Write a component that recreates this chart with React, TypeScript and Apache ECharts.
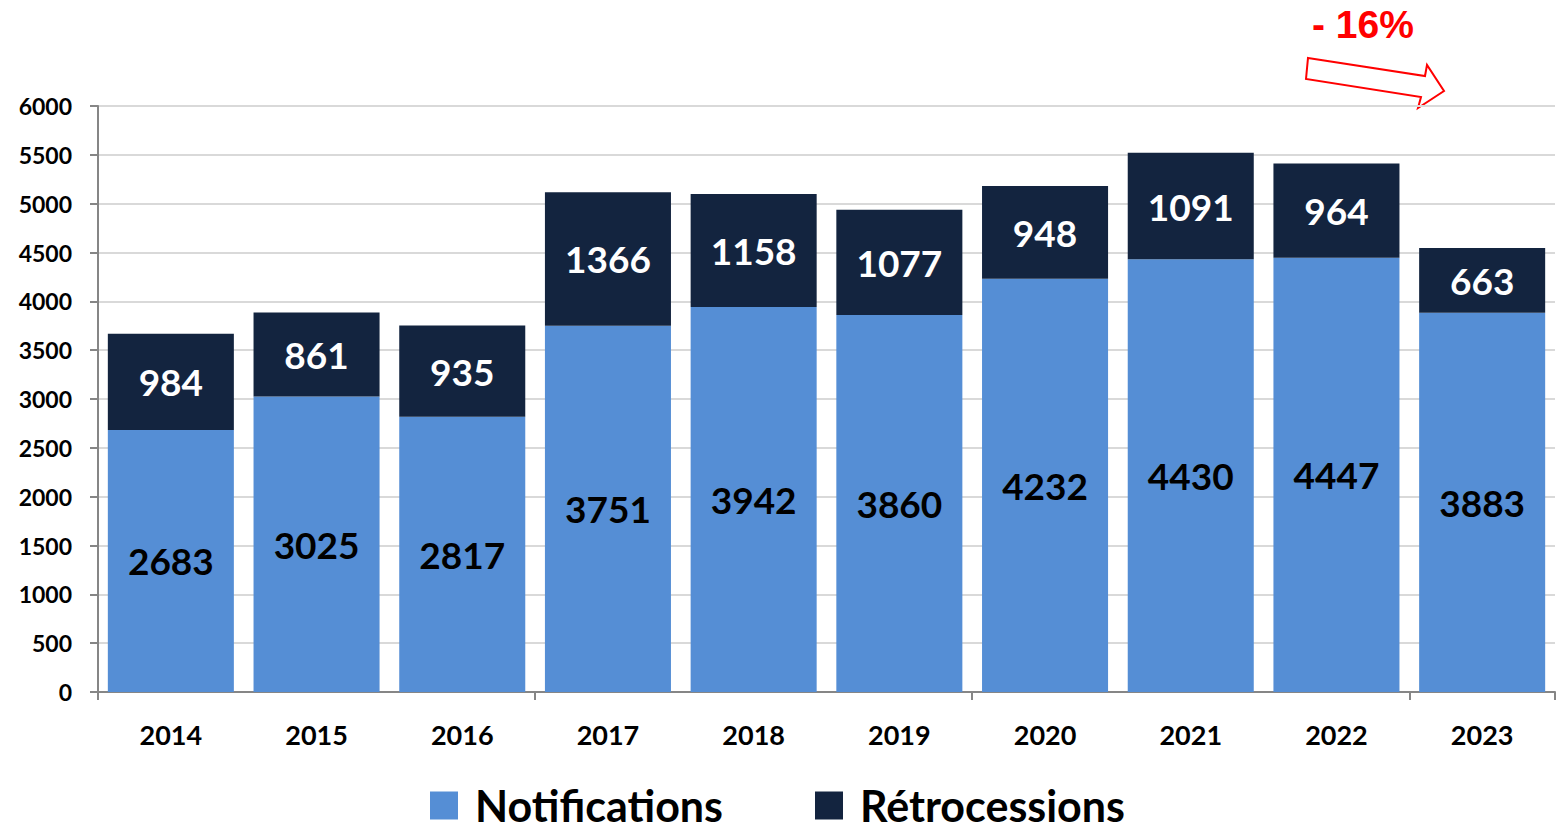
import React, { useEffect, useRef } from "react";
import * as echarts from "echarts";

const years = ["2014", "2015", "2016", "2017", "2018", "2019", "2020", "2021", "2022", "2023"];
const notifications = [2683, 3025, 2817, 3751, 3942, 3860, 4232, 4430, 4447, 3883];
const retrocessions = [984, 861, 935, 1366, 1158, 1077, 948, 1091, 964, 663];
const yMin = 0;
const yMax = 6000;
const yInterval = 500;
const changeLabel = "- 16%";

const FONT = "Lato, 'Open Sans', sans-serif";

export default function App() {
  const ref = useRef<HTMLDivElement>(null);
  useEffect(() => {
    document.body.style.margin = "0";
    const chart = echarts.init(ref.current!, null, { renderer: "svg" });
    chart.setOption({
      animation: false,
      backgroundColor: "#ffffff",
      textStyle: { fontFamily: FONT },
      grid: { left: 98, right: 3, top: 106, bottom: 138 },
      legend: {
        top: 784,
        left: 430,
        padding: 0,
        itemWidth: 28,
        itemHeight: 28,
        itemGap: 92,
        icon: "rect",
        textStyle: {
          fontFamily: FONT,
          fontWeight: "bold",
          fontSize: 43,
          lineHeight: 40,
          color: "#000",
          padding: [0, 0, 0, 12],
        },
        data: ["Notifications", "Rétrocessions"],
      },
      xAxis: {
        type: "category",
        data: years,
        axisLine: { lineStyle: { color: "#868686", width: 2 } },
        axisTick: { show: true, interval: 2, length: 8, lineStyle: { color: "#868686", width: 2 } },
        axisLabel: {
          interval: 0,
          margin: 29,
          fontFamily: FONT,
          fontWeight: "bold",
          fontSize: 27,
          color: "#000",
        },
      },
      yAxis: {
        type: "value",
        min: yMin,
        max: yMax,
        interval: yInterval,
        axisLine: { show: true, lineStyle: { color: "#868686", width: 2 } },
        axisTick: { show: true, length: 8, lineStyle: { color: "#868686", width: 2 } },
        splitLine: { lineStyle: { color: "#d9d9d9", width: 2 } },
        axisLabel: {
          margin: 26,
          formatter: (v: number) => String(v),
          fontFamily: FONT,
          fontWeight: "bold",
          fontSize: 23,
          color: "#000",
        },
      },
      series: [
        {
          name: "Notifications",
          type: "bar",
          stack: "total",
          data: notifications,
          barCategoryGap: "13.5%",
          itemStyle: { color: "#558ed5" },
          label: {
            show: true,
            position: "inside",
            fontFamily: FONT,
            fontWeight: "bold",
            fontSize: 37,
            color: "#000",
          },
        },
        {
          name: "Rétrocessions",
          type: "bar",
          stack: "total",
          data: retrocessions,
          barCategoryGap: "13.5%",
          itemStyle: { color: "#13243f" },
          label: {
            show: true,
            position: "inside",
            fontFamily: FONT,
            fontWeight: "bold",
            fontSize: 37,
            color: "#fff",
          },
        },
      ],
      graphic: [
        {
          type: "text",
          left: 1312,
          top: 5,
          style: {
            text: changeLabel,
            fill: "#ff0000",
            font: "bold 39px 'Liberation Sans', Arial, sans-serif",
          },
        },
        {
          type: "polygon",
          shape: {
            points: [
              [1308, 58],
              [1425, 76],
              [1427, 65],
              [1444, 91],
              [1418, 108],
              [1421, 97],
              [1306, 79],
            ],
          },
          style: { fill: "#ffffff", stroke: "#ff0000", lineWidth: 2 },
        },
      ],
    });
    return () => chart.dispose();
  }, []);
  return <div ref={ref} style={{ width: 1558, height: 830 }} />;
}
